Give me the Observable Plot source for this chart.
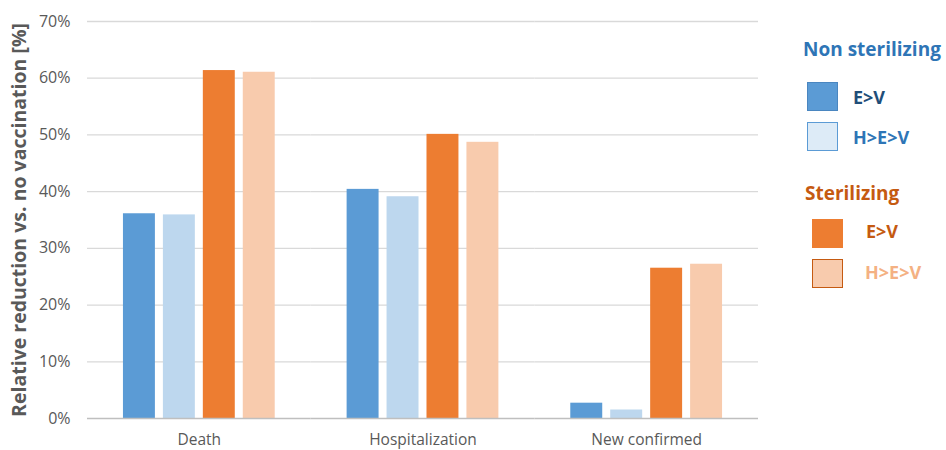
<!DOCTYPE html>
<html>
<head>
<meta charset="utf-8">
<script src="https://cdn.jsdelivr.net/npm/d3@7"></script>
<script src="https://cdn.jsdelivr.net/npm/@observablehq/plot@0.6"></script>
<style>
  html, body { margin: 0; padding: 0; background: #fff; }
  #wrap { position: relative; width: 946px; height: 450px; font-family: "Open Sans", sans-serif; }
  #legend { position: absolute; left: 0; top: 0; width: 946px; height: 450px; pointer-events: none; }
  .lg { position: absolute; font-weight: bold; white-space: nowrap; line-height: 1; }
  .sw { position: absolute; box-sizing: border-box; }
</style>
</head>
<body>
<div id="wrap"><div id="chart"></div><div id="legend"></div></div>
<script>
const categories = ["Death", "Hospitalization", "New confirmed"];
const series = ["NS E>V", "NS H>E>V", "S E>V", "S H>E>V"];
const nonSterEV  = [36.1, 40.4, 2.7];
const nonSterHEV = [35.9, 39.1, 1.5];
const sterEV     = [61.35, 50.1, 26.5];
const sterHEV    = [61.05, 48.7, 27.2];
const yTicks = [0, 10, 20, 30, 40, 50, 60, 70];
const colors = ["#5B9BD5", "#BDD7EE", "#ED7D31", "#F8CBAD"];

const values = [nonSterEV, nonSterHEV, sterEV, sterHEV];
const data = [];
categories.forEach((c, i) => series.forEach((s, j) => data.push({cat: c, series: s, value: values[j][i]})));

const chart = Plot.plot({
  width: 946,
  height: 450,
  marginLeft: 87,
  marginRight: 188,
  marginTop: 21,
  marginBottom: 32,
  style: {fontFamily: "Open Sans, sans-serif", fontSize: "15px", color: "#595959", background: "#fff"},
  fx: {domain: categories, padding: 0, round: false, label: null},
  x: {domain: series, paddingInner: 0.2, paddingOuter: 0.9, round: false, axis: null},
  y: {domain: [0, 70], axis: null},
  color: {domain: series, range: colors},
  marks: [
    Plot.gridY(yTicks.filter(d => d > 0), {stroke: "#d9d9d9", strokeOpacity: 1, strokeWidth: 1.3}),
    Plot.barY(data, {fx: "cat", x: "series", y: "value", fill: "series"}),
    Plot.ruleY([0], {stroke: "#bfbfbf", strokeWidth: 1.3}),
    Plot.axisY(yTicks, {
      tickSize: 0, tickPadding: 17, fontSize: 16, fill: "#595959",
      tickFormat: d => d + "%",
      label: "Relative reduction vs. no vaccination [%]",
      labelAnchor: "center", labelArrow: "none", labelOffset: 75
    }),
    Plot.axisFx({anchor: "bottom", tickSize: 0, tickPadding: 15, fontSize: 15.5, fill: "#595959", label: null})
  ]
});
document.getElementById("chart").appendChild(chart);
// style the y label bold
chart.querySelectorAll("g[aria-label='y-axis label'] text").forEach(t => {
  t.setAttribute("font-weight", "bold"); t.setAttribute("font-size", "19.5");
});

const legendItems = [
  {type: "title", text: "Non sterilizing", x: 803, y: 40, size: 19, color: "#2E75B6"},
  {type: "swatch", x: 807, y: 82, fill: "#5B9BD5", stroke: "#4A86C0"},
  {type: "label", text: "E>V", x: 853, y: 88, size: 18, color: "#1F4E79"},
  {type: "swatch", x: 807, y: 122, fill: "#DDEBF7", stroke: "#5B9BD5"},
  {type: "label", text: "H>E>V", x: 853, y: 128, size: 18, color: "#2E75B6"},
  {type: "title", text: "Sterilizing", x: 805, y: 184, size: 19, color: "#C55A11"},
  {type: "swatch", x: 812, y: 219, fill: "#ED7D31", stroke: "#ED7D31"},
  {type: "label", text: "E>V", x: 866, y: 222, size: 18, color: "#C55A11"},
  {type: "swatch", x: 812, y: 259, fill: "#F8CBAD", stroke: "#C55A11"},
  {type: "label", text: "H>E>V", x: 865, y: 263, size: 18, color: "#F4B183"}
];
const lg = document.getElementById("legend");
legendItems.forEach(it => {
  const el = document.createElement("div");
  if (it.type === "swatch") {
    el.className = "sw";
    Object.assign(el.style, {left: it.x + "px", top: it.y + "px", width: "31px", height: "29px", background: it.fill, border: "1.3px solid " + it.stroke});
  } else {
    el.className = "lg";
    el.textContent = it.text;
    Object.assign(el.style, {left: it.x + "px", top: it.y + "px", fontSize: it.size + "px", color: it.color});
  }
  lg.appendChild(el);
});
</script>
</body>
</html>
